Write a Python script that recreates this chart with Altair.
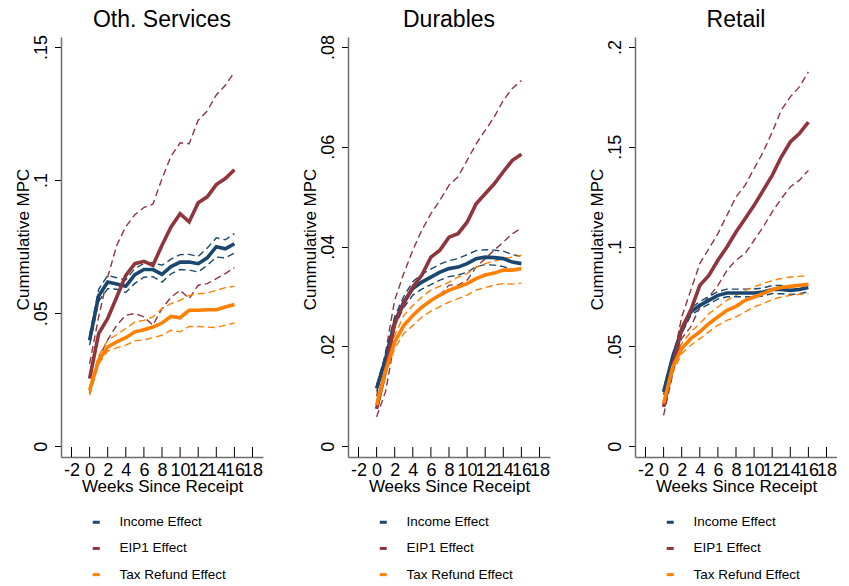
import altair as alt
import pandas as pd

weeks = list(range(17))
series_names = ["Income Effect", "EIP1 Effect", "Tax Refund Effect"]
series_colors = ["#1a476f", "#90353b", "#ff7f00"]
x_ticks = [-2, 0, 2, 4, 6, 8, 10, 12, 14, 16, 18]

# ---- Oth. Services ----
oth_inc = [0.0398,0.0565,0.0617,0.0610,0.0601,0.0645,0.0664,0.0664,0.0646,0.0675,0.0692,0.0692,0.0686,0.0708,0.0750,0.0742,0.0761]
oth_inc_hi = [0.0418,0.0590,0.0642,0.0633,0.0625,0.0668,0.0687,0.0690,0.0680,0.0703,0.0720,0.0721,0.0713,0.0745,0.0783,0.0776,0.0799]
oth_inc_lo = [0.0380,0.0545,0.0592,0.0590,0.0578,0.0612,0.0635,0.0637,0.0617,0.0648,0.0664,0.0662,0.0655,0.0680,0.0711,0.0708,0.0726]
oth_eip = [0.0254,0.0423,0.0480,0.0561,0.0642,0.0686,0.0695,0.0680,0.0755,0.0824,0.0874,0.0843,0.0915,0.0937,0.0983,0.1006,0.1039]
oth_eip_hi = [0.0310,0.0486,0.0636,0.0755,0.0825,0.0870,0.0897,0.0910,0.1005,0.1090,0.1140,0.1137,0.1225,0.1260,0.1320,0.1356,0.1406]
oth_eip_lo = [0.0200,0.0330,0.0400,0.0455,0.0492,0.0499,0.0486,0.0455,0.0517,0.0560,0.0586,0.0555,0.0605,0.0611,0.0630,0.0649,0.0671]
oth_tax = [0.0210,0.0323,0.0373,0.0392,0.0408,0.0430,0.0438,0.0448,0.0463,0.0488,0.0483,0.0511,0.0511,0.0513,0.0513,0.0523,0.0533]
oth_tax_hi = [0.0220,0.0340,0.0398,0.0420,0.0442,0.0467,0.0473,0.0486,0.0517,0.0536,0.0548,0.0567,0.0573,0.0576,0.0586,0.0596,0.0601]
oth_tax_lo = [0.0192,0.0310,0.0358,0.0370,0.0380,0.0396,0.0400,0.0408,0.0417,0.0436,0.0430,0.0450,0.0450,0.0448,0.0446,0.0455,0.0463]

# ---- Durables ----
dur_inc = [0.0116,0.0176,0.0249,0.0289,0.0316,0.0329,0.0339,0.0349,0.0356,0.0359,0.0366,0.0376,0.0379,0.0378,0.0376,0.0369,0.0366]
dur_inc_hi = [0.0122,0.0185,0.0260,0.0300,0.0330,0.0345,0.0355,0.0365,0.0372,0.0376,0.0384,0.0392,0.0394,0.0393,0.0391,0.0384,0.0381]
dur_inc_lo = [0.0110,0.0168,0.0240,0.0278,0.0303,0.0315,0.0324,0.0333,0.0340,0.0343,0.0349,0.0360,0.0364,0.0363,0.0360,0.0354,0.0351]
dur_eip = [0.0075,0.0152,0.0246,0.0286,0.0319,0.0343,0.0379,0.0393,0.0419,0.0426,0.0449,0.0486,0.0506,0.0526,0.0550,0.0573,0.0585]
dur_eip_hi = [0.0100,0.0190,0.0293,0.0346,0.0393,0.0433,0.0466,0.0493,0.0523,0.0540,0.0573,0.0606,0.0633,0.0660,0.0693,0.0717,0.0733]
dur_eip_lo = [0.0059,0.0110,0.0212,0.0242,0.0262,0.0276,0.0292,0.0303,0.0323,0.0323,0.0333,0.0359,0.0376,0.0393,0.0409,0.0426,0.0437]
dur_tax = [0.0082,0.0152,0.0209,0.0242,0.0262,0.0279,0.0292,0.0303,0.0313,0.0319,0.0326,0.0336,0.0343,0.0347,0.0353,0.0353,0.0356]
dur_tax_hi = [0.0090,0.0160,0.0222,0.0262,0.0282,0.0299,0.0313,0.0321,0.0329,0.0339,0.0346,0.0359,0.0366,0.0371,0.0376,0.0379,0.0383]
dur_tax_lo = [0.0075,0.0145,0.0196,0.0226,0.0242,0.0259,0.0271,0.0280,0.0289,0.0296,0.0303,0.0313,0.0318,0.0323,0.0326,0.0325,0.0327]

# ---- Retail ----
ret_inc = [0.0272,0.0447,0.0581,0.0673,0.0706,0.0731,0.0756,0.0768,0.0768,0.0768,0.0768,0.0773,0.0785,0.0785,0.0781,0.0785,0.0795]
ret_inc_hi = [0.0285,0.0462,0.0598,0.0691,0.0725,0.0750,0.0775,0.0787,0.0787,0.0787,0.0788,0.0793,0.0805,0.0806,0.0802,0.0806,0.0816]
ret_inc_lo = [0.0259,0.0432,0.0564,0.0655,0.0687,0.0712,0.0737,0.0749,0.0749,0.0749,0.0748,0.0753,0.0765,0.0764,0.0760,0.0764,0.0774]
ret_eip = [0.0197,0.0397,0.0589,0.0681,0.0806,0.0856,0.0932,0.0998,0.1073,0.1140,0.1207,0.1282,0.1357,0.1449,0.1524,0.1566,0.1624]
ret_eip_hi = [0.0220,0.0420,0.0648,0.0781,0.0915,0.0990,0.1065,0.1157,0.1249,0.1307,0.1391,0.1474,0.1574,0.1683,0.1750,0.1800,0.1875]
ret_eip_lo = [0.0155,0.0360,0.0539,0.0598,0.0698,0.0748,0.0806,0.0881,0.0932,0.0965,0.1032,0.1098,0.1174,0.1240,0.1299,0.1332,0.1382]
ret_tax = [0.0214,0.0397,0.0489,0.0539,0.0573,0.0614,0.0648,0.0681,0.0701,0.0731,0.0748,0.0765,0.0785,0.0795,0.0801,0.0806,0.0811]
ret_tax_hi = [0.0230,0.0420,0.0514,0.0573,0.0614,0.0664,0.0698,0.0731,0.0756,0.0781,0.0798,0.0815,0.0831,0.0840,0.0848,0.0851,0.0856]
ret_tax_lo = [0.0200,0.0370,0.0464,0.0506,0.0539,0.0573,0.0606,0.0631,0.0648,0.0673,0.0698,0.0715,0.0735,0.0748,0.0756,0.0761,0.0765]

panel_titles = ["Oth. Services", "Durables", "Retail"]
panels = [
    ([(oth_inc, oth_inc_lo, oth_inc_hi), (oth_eip, oth_eip_lo, oth_eip_hi), (oth_tax, oth_tax_lo, oth_tax_hi)],
     [0, 0.05, 0.1, 0.15], [-0.00402, 0.15376]),
    ([(dur_inc, dur_inc_lo, dur_inc_hi), (dur_eip, dur_eip_lo, dur_eip_hi), (dur_tax, dur_tax_lo, dur_tax_hi)],
     [0, 0.02, 0.04, 0.06, 0.08], [-0.00214, 0.0820]),
    ([(ret_inc, ret_inc_lo, ret_inc_hi), (ret_eip, ret_eip_lo, ret_eip_hi), (ret_tax, ret_tax_lo, ret_tax_hi)],
     [0, 0.05, 0.1, 0.15, 0.2], [-0.00536, 0.2050]),
]

W, H = 202, 420
FONT = "Liberation Sans"
x_dom = [-3.16, 19.16]

color_scale = alt.Scale(domain=series_names, range=series_colors)
legend = alt.Legend(
    title=None, orient="none", legendX=28.5, legendY=478.5, direction="vertical",
    symbolType="M-1,0H1", symbolSize=49, symbolStrokeWidth=3,
    labelFontSize=13.5, labelFont=FONT, labelColor="#000000", labelOffset=16.5,
    rowPadding=11.2, padding=0, labelLimit=300,
)
dash_scale = alt.Scale(domain=["ci"], range=[[7, 4]])

y_label_expr = "datum.value == 0 ? '0' : replace(format(datum.value, '.2~f'), '0.', '.')"
x_label_expr = "datum.value < 0 ? '-' + abs(datum.value) : '' + datum.value"

x_scale = alt.Scale(domain=x_dom, nice=False, zero=False)
x_axis = alt.Axis(values=x_ticks, labelExpr=x_label_expr, tickSize=0, labelPadding=4,
                  labelFontSize=18, labelOverlap=False, labelFlush=False, grid=False,
                  domainColor="#6e6e6e", domainWidth=1.5,
                  title="Weeks Since Receipt", titleFontSize=17,
                  titleFontWeight="normal", titleY=21.5, titleBaseline="top",
                  labelColor="#000000", titleColor="#000000")


def make_panel(title, triples, yticks, ydom):
    rows = []
    for name, (est, lo, hi) in zip(series_names, triples):
        for w, e, l, h in zip(weeks, est, lo, hi):
            rows.append({"series": name, "week": w, "est": e, "lo": l, "hi": h, "ci": "ci"})
    df = pd.DataFrame(rows)

    x_enc = alt.X("week:Q", scale=x_scale, axis=x_axis)
    y_scale = alt.Scale(domain=ydom, nice=False, zero=False)
    y_axis = alt.Axis(values=yticks, labelExpr=y_label_expr, tickSize=6.5, tickColor="#000000",
                      labelAngle=270, labelAlign="center", labelBaseline="bottom",
                      labelPadding=4.2, labelFontSize=18, labelColor="#000000", grid=False,
                      domainColor="#6e6e6e", domainWidth=1.5,
                      title="Cummulative MPC", titleFontSize=17, titleFontWeight="normal",
                      titleAngle=270, titleAlign="center", titleBaseline="bottom",
                      titleX=-29, titleY=202, titleColor="#000000")
    color = alt.Color("series:N", scale=color_scale, legend=legend)

    base = alt.Chart(df)
    dashed = []
    for col in ["lo", "hi"]:
        dashed.append(base.mark_line(strokeWidth=1.4).encode(
            x=x_enc, y=alt.Y(f"{col}:Q", scale=y_scale, axis=y_axis), color=color,
            strokeDash=alt.StrokeDash("ci:N", scale=dash_scale, legend=None),
            detail="series:N"))
    solids = []
    for name in series_names:
        solids.append(base.transform_filter(alt.datum.series == name).mark_line(strokeWidth=3.6).encode(
            x=x_enc, y=alt.Y("est:Q", scale=y_scale, axis=y_axis), color=color))

    ticks_df = pd.DataFrame({"week": x_ticks})
    tick_rules = alt.Chart(ticks_df).mark_rule(color="#000000", strokeWidth=1).encode(
        x=x_enc, y=alt.value(H), y2=alt.value(H - 10))

    title_df = pd.DataFrame({"label": [title]})
    title_mark = alt.Chart(title_df).mark_text(
        fontSize=23, font=FONT, color="#000000", baseline="alphabetic", align="center"
    ).encode(text="label:N", x=alt.value(W / 2), y=alt.value(-10.5))

    return alt.layer(*dashed, *solids, tick_rules, title_mark).properties(width=W, height=H)

charts = [make_panel(t, *p) for t, p in zip(panel_titles, panels)]
chart = alt.hconcat(*charts, spacing=38).resolve_scale(
    color="independent", y="independent"
).resolve_legend(color="independent").properties(
    padding={"left": 6, "top": 0, "right": 0, "bottom": 0}
).configure(font=FONT).configure_view(stroke=None)

chart.save("out.html", embed_options={"renderer": "svg", "actions": False})
